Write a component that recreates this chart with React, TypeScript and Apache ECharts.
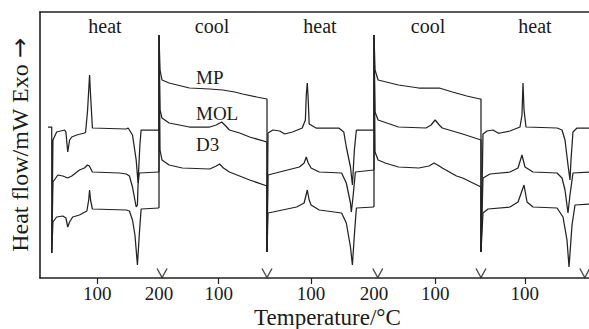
import React, { useEffect, useRef } from "react";
import * as echarts from "echarts";

const FONT = '"Liberation Serif", "Times New Roman", serif';
const INK = "#222222";
const TEXT = "#1a1a1a";

type Pt = [number, number];

// ---- segments (temperature programme) ----
const segmentNames = ["heat", "cool", "heat", "cool", "heat"];
const segmentMin = [7, 19, 30, 25, 27];
const segmentMax = [200, 200, 200, 200, 207];
const segmentCooling = [false, true, false, true, false];
const segmentLabelValues = [[100, 200], [100], [100, 200], [100], [100]];
const segmentTickValues = [[100], [100], [100], [100], [100]];
// "v" separators at the programme switch points (°C in each segment)
const separatorTemps = [[205], [19], [206], [25], [200]];
const separatorLevel = 0.5;

const sampleNames = ["MP", "MOL", "D3"];
const xTitle = "Temperature/°C";
const yTitle = "Heat flow/mW Exo";
const yTitleArrow = "→";

// ---- heat flow traces [°C, mW (arb.)] ----
const heat1MP: Pt[] = [[20, 15.1], [26, 15.1], [26, 2.5], [28, 13.8], [34, 14.6], [47, 14.8], [49, 14.6], [52, 12.6], [55, 13.8], [58.5, 14.1], [66.5, 14.3], [79.4, 14.5], [81, 14.6], [84.2, 16.8], [87.4, 20.3], [89, 18.3], [92, 15.0], [147, 14.9], [150, 15.0], [157, 14.3], [163, 11.8], [166, 9.5], [169, 13.3], [171, 14.8], [200, 14.8]];
const heat1MOL: Pt[] = [[26, 2.5], [28, 9.6], [36, 10.3], [44, 10.2], [52, 10.0], [58.5, 10.2], [71, 10.8], [79, 11.0], [84, 11.3], [87, 11.2], [92, 10.6], [136, 10.5], [147, 10.4], [152, 10.2], [157, 9.1], [160, 8.1], [163, 7.1], [165, 7.3], [166, 9.3], [168, 10.5], [200, 10.6]];
const heat1D3: Pt[] = [[26, 2.5], [28, 5.6], [34, 6.1], [44, 6.2], [49, 6.0], [52, 5.1], [55, 5.6], [60, 6.1], [71, 6.3], [83, 6.7], [86, 7.8], [87.4, 8.8], [89, 7.8], [92, 6.9], [147, 6.8], [152, 6.7], [157, 5.8], [161, 4.3], [165, 1.3], [168, 4.3], [171, 6.9], [200, 7.0]];

const cool1MP: Pt[] = [[200, 14.8], [200, 24.3], [198.3, 20.8], [194.9, 19.8], [183, 19.5], [149, 19.0], [115, 18.9], [93.4, 18.8], [73, 18.6], [60, 18.4], [36, 18.1], [19, 17.9], [19, 2.6]];
const cool1MOL: Pt[] = [[200, 10.6], [200, 24.3], [198.3, 16.8], [195, 16.0], [183, 15.5], [149, 15.1], [115, 15.1], [104, 15.3], [95, 15.6], [88, 15.2], [82, 14.8], [65, 14.5], [48, 14.1], [19, 13.6], [19, 2.6]];
const cool1D3: Pt[] = [[200, 7.0], [200, 24.3], [198.3, 12.8], [195, 11.8], [183, 11.3], [161, 11.0], [115, 10.9], [104, 11.2], [98.5, 11.4], [92, 11.0], [82, 10.6], [48, 9.8], [19, 9.2], [19, 2.6]];

const heat2MP: Pt[] = [[30, 2.6], [31.6, 14.5], [39.4, 14.8], [50.3, 14.7], [58, 14.4], [70.5, 14.6], [86, 15.0], [91, 15.8], [92.4, 18.3], [94, 19.5], [95.5, 17.8], [97, 15.4], [108, 15.0], [144, 15.0], [152, 14.6], [156, 13.1], [162.6, 11.1], [165.7, 9.3], [168.8, 12.8], [172, 14.8], [200, 14.8]];
const heat2MOL: Pt[] = [[30, 2.6], [31.6, 10.3], [50, 10.6], [81.5, 11.1], [89, 11.5], [92.4, 12.1], [95.5, 11.5], [100, 11.0], [113, 10.6], [148.5, 10.5], [156, 9.5], [162.6, 7.5], [164, 6.6], [167, 8.3], [170.4, 10.6], [200, 10.8]];
const heat2D3: Pt[] = [[30, 2.6], [31.6, 6.5], [39.4, 6.6], [77, 7.1], [89, 7.5], [94, 8.8], [97, 7.8], [100, 7.3], [113, 6.8], [148.5, 6.5], [156, 5.5], [162.6, 3.1], [165.7, 1.3], [168.8, 4.3], [172, 7.0], [200, 7.1]];

const cool2MP: Pt[] = [[200, 14.8], [200, 24.3], [198.3, 20.8], [193.3, 19.8], [160, 19.3], [126.7, 19.0], [93.3, 19.0], [71.7, 18.6], [48.3, 18.2], [26.7, 17.9], [25, 17.9], [25, 2.6]];
const cool2MOL: Pt[] = [[200, 10.8], [200, 24.3], [198.3, 16.6], [193.3, 15.8], [160, 15.1], [115, 15.0], [106.7, 15.3], [100, 15.8], [93.3, 15.3], [88.3, 15.0], [55, 14.4], [25, 13.8], [25, 2.6]];
const cool2D3: Pt[] = [[200, 7.1], [200, 24.3], [198.3, 12.6], [193.3, 11.8], [181.7, 11.5], [160, 11.1], [126.7, 11.0], [110, 11.2], [101.7, 11.5], [93.3, 11.2], [88.3, 11.0], [65, 10.2], [55, 10.0], [25, 9.1], [25, 2.6]];

const heat3MP: Pt[] = [[27, 2.6], [30.3, 14.4], [37, 14.7], [47, 14.8], [55.3, 14.5], [58.7, 14.5], [75.3, 14.7], [92, 15.1], [95.3, 16.3], [97, 19.5], [98.7, 16.8], [102, 15.1], [153.7, 15.0], [162, 14.8], [167, 13.8], [172, 11.3], [175.3, 9.8], [177, 11.8], [180.3, 14.6], [187, 15.0], [207, 15.0]];
const heat3MOL: Pt[] = [[27, 2.6], [30.3, 10.0], [42, 10.4], [75.3, 10.6], [88.7, 11.0], [95.3, 12.3], [100.3, 11.1], [113.7, 10.6], [153.7, 10.5], [162, 10.0], [167, 8.8], [172, 6.5], [175.3, 8.3], [180.3, 10.5], [207, 10.6]];
const heat3D3: Pt[] = [[27, 2.6], [30.3, 6.5], [38.7, 6.9], [75.3, 7.1], [88.7, 7.6], [98.7, 9.3], [103.7, 7.6], [113.7, 7.1], [153.7, 7.0], [163.7, 6.1], [170.3, 3.8], [173.7, 1.1], [178.7, 5.3], [183.7, 7.3], [207, 7.4]];

const Y_MAX = 26.6;

// layout (px)
const segLeft = [40, 159, 267, 374, 481];
const segWidth = [119, 108, 107, 107, 108];
const segLabelX = [105, 212, 320, 428, 535];
const sampleLabelY = [77, 113, 144];

export default function App() {
  const ref = useRef<HTMLDivElement>(null);
  useEffect(() => {
    const chart = echarts.init(ref.current!, undefined, { renderer: "svg" });
    const segData = [
      [heat1MP, heat1MOL, heat1D3],
      [cool1MP, cool1MOL, cool1D3],
      [heat2MP, heat2MOL, heat2D3],
      [cool2MP, cool2MOL, cool2D3],
      [heat3MP, heat3MOL, heat3D3],
    ];
    const grids: any[] = segLeft.map((l, i) => ({ left: l, width: segWidth[i], top: 12, height: 266, outerBoundsMode: "none" }));
    grids.push({ left: 40, width: 549, top: 12, height: 266, outerBoundsMode: "none" });

    const xAxes: any[] = segmentNames.map((_, i) => ({
      type: "value",
      gridIndex: i,
      min: segmentMin[i],
      max: segmentMax[i],
      inverse: segmentCooling[i],
      axisLine: { show: false },
      axisTick: { show: true, customValues: segmentTickValues[i], length: 6, lineStyle: { color: INK, width: 1.2 } },
      axisLabel: { show: true, customValues: segmentLabelValues[i], fontSize: 19, fontFamily: FONT, color: TEXT, margin: 6 },
      splitLine: { show: false },
    }));
    xAxes.push({
      type: "value", gridIndex: 5, position: "bottom", min: 0, max: 1,
      axisLine: { show: true, lineStyle: { color: INK, width: 1.6 } },
      axisTick: { show: false }, axisLabel: { show: false }, splitLine: { show: false },
      name: xTitle, nameLocation: "middle", nameGap: 28,
      nameTextStyle: { fontSize: 23, fontFamily: FONT, color: TEXT, padding: [0, 0, 0, 26] },
    });
    xAxes.push({
      type: "value", gridIndex: 5, position: "top", min: 0, max: 1,
      axisLine: { show: true, lineStyle: { color: INK, width: 1.6 } },
      axisTick: { show: false }, axisLabel: { show: false }, splitLine: { show: false },
    });

    const yAxes: any[] = segmentNames.map((_, i) => ({
      type: "value", gridIndex: i, min: 0, max: Y_MAX, show: false,
    }));
    yAxes.push({
      type: "value", gridIndex: 5, min: 0, max: 1, position: "left",
      axisLine: { show: true, lineStyle: { color: INK, width: 1.6 } },
      axisTick: { show: false }, axisLabel: { show: false }, splitLine: { show: false },
      name: `${yTitle} {arr|${yTitleArrow}}`, nameLocation: "middle", nameGap: 8, nameRotate: 90,
      nameTextStyle: {
        fontSize: 24, fontFamily: FONT, color: TEXT,
        rich: { arr: { fontSize: 24, fontFamily: '"DejaVu Sans", sans-serif', color: TEXT } },
      },
    });

    const series: any[] = [];
    segData.forEach((traces, i) => {
      traces.forEach((d, j) => {
        series.push({
          type: "line", name: `${segmentNames[i]}-${sampleNames[j]}`,
          xAxisIndex: i, yAxisIndex: i, data: d,
          symbol: "none", showSymbol: false, clip: false, silent: true,
          lineStyle: { color: INK, width: 1.25 },
        });
      });
      series.push({
        type: "scatter", xAxisIndex: i, yAxisIndex: i, clip: false, silent: true,
        data: separatorTemps[i].map((t) => [t, separatorLevel]),
        symbol: "path://M0,0L5,9L10,0", symbolSize: [10, 9],
        itemStyle: { color: "transparent", borderColor: INK, borderWidth: 1.3 },
      });
    });

    const graphic: any[] = [];
    segmentNames.forEach((n, i) => {
      graphic.push({
        type: "text", x: segLabelX[i], y: 26, silent: true,
        style: { text: n, fontSize: 20, fontFamily: FONT, fill: TEXT, align: "center", verticalAlign: "middle" },
      });
    });
    sampleNames.forEach((n, j) => {
      graphic.push({
        type: "text", x: 196, y: sampleLabelY[j], silent: true,
        style: { text: n, fontSize: 19, fontFamily: FONT, fill: TEXT, align: "left", verticalAlign: "middle" },
      });
    });

    chart.setOption({
      animation: false,
      backgroundColor: "#ffffff",
      grid: grids,
      xAxis: xAxes,
      yAxis: yAxes,
      series,
      graphic,
    });
    return () => chart.dispose();
  }, []);
  return <div ref={ref} style={{ position: "absolute", left: 0, top: 0, width: 589, height: 329, background: "#fff" }} />;
}
